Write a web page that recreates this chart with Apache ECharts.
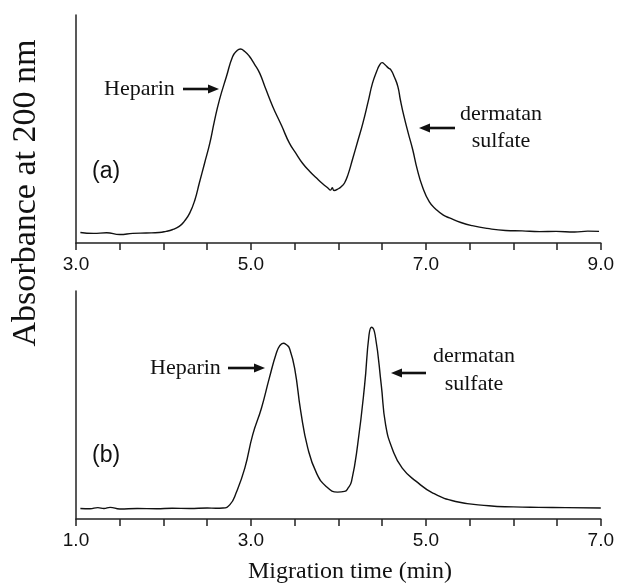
<!DOCTYPE html>
<html>
<head>
<meta charset="utf-8">
<script src="https://cdn.jsdelivr.net/npm/echarts@6/dist/echarts.min.js"></script>
<style>
html,body{margin:0;padding:0;background:#fff;}
#main{width:617px;height:584px;}
</style>
</head>
<body>
<div id="main"></div>
<script>
// Panel (a): migration time (min) and absorbance (arbitrary units)
const timeA = [3.05,3.2,3.35,3.5,3.65,3.8,3.95,4.03,4.10,4.18,4.24,4.30,4.36,4.41,4.47,4.53,4.58,4.64,4.72,4.79,4.84,4.88,4.93,4.98,5.04,5.10,5.17,5.25,5.35,5.44,5.52,5.59,5.67,5.75,5.82,5.88,5.91,5.93,5.95,6.00,6.04,6.07,6.11,6.16,6.22,6.28,6.34,6.39,6.44,6.47,6.50,6.53,6.57,6.60,6.64,6.68,6.71,6.75,6.80,6.85,6.90,6.96,7.04,7.12,7.20,7.27,7.40,7.53,7.70,7.91,8.10,8.30,8.49,8.70,8.85,8.98];
const absA  = [4.6,4.2,4.5,3.7,4.2,4.4,4.6,5.1,5.8,7.3,9.6,13.1,19.0,26.3,35.0,43.8,53.0,62.8,73.0,81.7,84.3,85.1,84.0,82.0,78.5,74.5,67.5,59.8,51.5,43.8,39.0,35.0,31.5,28.5,26.0,24.1,23.2,24.2,23.0,23.8,25.0,26.3,30.0,36.5,44.5,52.6,62.0,70.1,75.5,78.0,79.1,78.3,76.8,75.9,72.8,68.6,62.5,55.5,48.0,40.9,32.5,24.8,18.0,14.6,12.2,11.0,9.0,7.6,6.4,5.5,5.3,5.0,5.1,4.8,5.2,5.1];

// Panel (b)
const timeB = [1.05,1.16,1.25,1.32,1.39,1.5,1.7,1.92,2.1,2.3,2.5,2.6,2.68,2.76,2.83,2.93,3.02,3.12,3.21,3.29,3.33,3.37,3.41,3.44,3.50,3.57,3.65,3.75,3.86,3.99,4.07,4.11,4.15,4.22,4.30,4.35,4.38,4.42,4.49,4.54,4.62,4.73,4.89,5.08,5.34,5.72,6.0,6.29,6.6,7.0];
const absB  = [4.6,4.5,5.0,4.6,5.1,4.4,4.6,4.5,4.7,4.6,4.8,4.7,4.8,6.3,11.4,22.3,36.9,48.6,61.8,72.7,76.0,77.1,76.3,74.9,66.1,47.1,31.1,20.1,14.3,11.8,12.1,13.5,16.5,32.5,58.8,80.7,84.1,80.7,58.8,41.3,30.4,22.3,16.5,11.4,7.7,5.8,5.3,5.1,5.0,4.8];

// Axis ranges and labelled ticks
const xRangeA = [3, 9];
const xRangeB = [1, 7];
const tickLabelsA = [3, 5, 7, 9];
const tickLabelsB = [1, 3, 5, 7];

const chart = echarts.init(document.getElementById('main'), null, {renderer:'canvas'});

function pairs(xs, ys){ return xs.map((x,i)=>[x, ys[i]]); }
function labelFmt(list){
  return function(v){
    for (const t of list){ if (Math.abs(v - t) < 1e-6) return t.toFixed(1); }
    return '';
  };
}
const AX = '#222';
function xAxis(gi, range, labels){
  return {
    type:'value', gridIndex:gi, min:range[0], max:range[1], interval:0.5,
    axisLine:{show:true, onZero:false, lineStyle:{color:AX, width:1.5}},
    axisTick:{show:true, inside:false, length:7, lineStyle:{color:AX, width:1.5}},
    axisLabel:{show:true, margin:12, formatter:labelFmt(labels), color:'#111',
      fontFamily:'"Liberation Sans", Arial, sans-serif', fontSize:19, hideOverlap:false},
    splitLine:{show:false}
  };
}
function yAxis(gi){
  return {
    type:'value', gridIndex:gi, min:0, max:100,
    axisLine:{show:true, onZero:false, lineStyle:{color:AX, width:1.5}},
    axisTick:{show:false}, axisLabel:{show:false}, splitLine:{show:false}
  };
}
const serif = '"Liberation Serif", "Times New Roman", serif';
const sans = '"Liberation Sans", Arial, sans-serif';

function txt(x, y, s, size, font, align){
  return {type:'text', x:x, y:y, silent:true,
    style:{text:s, fill:'#111', font: size + 'px ' + font, textAlign:align||'left', textVerticalAlign:'middle'}};
}
function arrow(x1, y, x2){
  const dir = x2 > x1 ? 1 : -1;
  const head = 11, half = 4.5;
  return [
    {type:'line', silent:true, shape:{x1:x1, y1:y, x2:x2 - dir*head + dir*1, y2:y}, style:{stroke:'#111', lineWidth:2.6}},
    {type:'polygon', silent:true, shape:{points:[[x2, y],[x2 - dir*head, y - half],[x2 - dir*head, y + half]]}, style:{fill:'#111'}}
  ];
}

const graphics = [].concat(
  [txt(104, 89, 'Heparin', 22, serif)],
  arrow(183, 89, 219),
  [txt(501, 114, 'dermatan', 22, serif, 'center'), txt(501, 141, 'sulfate', 22, serif, 'center')],
  arrow(455, 128, 419),
  [txt(92, 172, '(a)', 23, sans)],
  [txt(150, 368, 'Heparin', 22, serif)],
  arrow(228, 368, 265),
  [txt(474, 356, 'dermatan', 22, serif, 'center'), txt(474, 384, 'sulfate', 22, serif, 'center')],
  arrow(426, 373, 391),
  [txt(92, 456, '(b)', 23, sans)],
  [{type:'text', x:26, y:193, rotation:Math.PI/2, silent:true,
    style:{text:'Absorbance at 200 nm', fill:'#111', font:'34px ' + serif, textAlign:'center', textVerticalAlign:'middle'}}],
  [txt(350, 572, 'Migration time (min)', 24, serif, 'center')]
);

chart.setOption({
  animation:false,
  backgroundColor:'#fff',
  grid:[
    {left:76, right:15, top:15, height:228},
    {left:76, right:15, top:291, height:228}
  ],
  xAxis:[xAxis(0, xRangeA, tickLabelsA), xAxis(1, xRangeB, tickLabelsB)],
  yAxis:[yAxis(0), yAxis(1)],
  series:[
    {type:'line', xAxisIndex:0, yAxisIndex:0, data:pairs(timeA, absA), smooth:0.5, showSymbol:false,
     lineStyle:{color:'#111', width:1.4}},
    {type:'line', xAxisIndex:1, yAxisIndex:1, data:pairs(timeB, absB), smooth:0.5, showSymbol:false,
     lineStyle:{color:'#111', width:1.4}}
  ],
  graphic:graphics
});
</script>
</body>
</html>
